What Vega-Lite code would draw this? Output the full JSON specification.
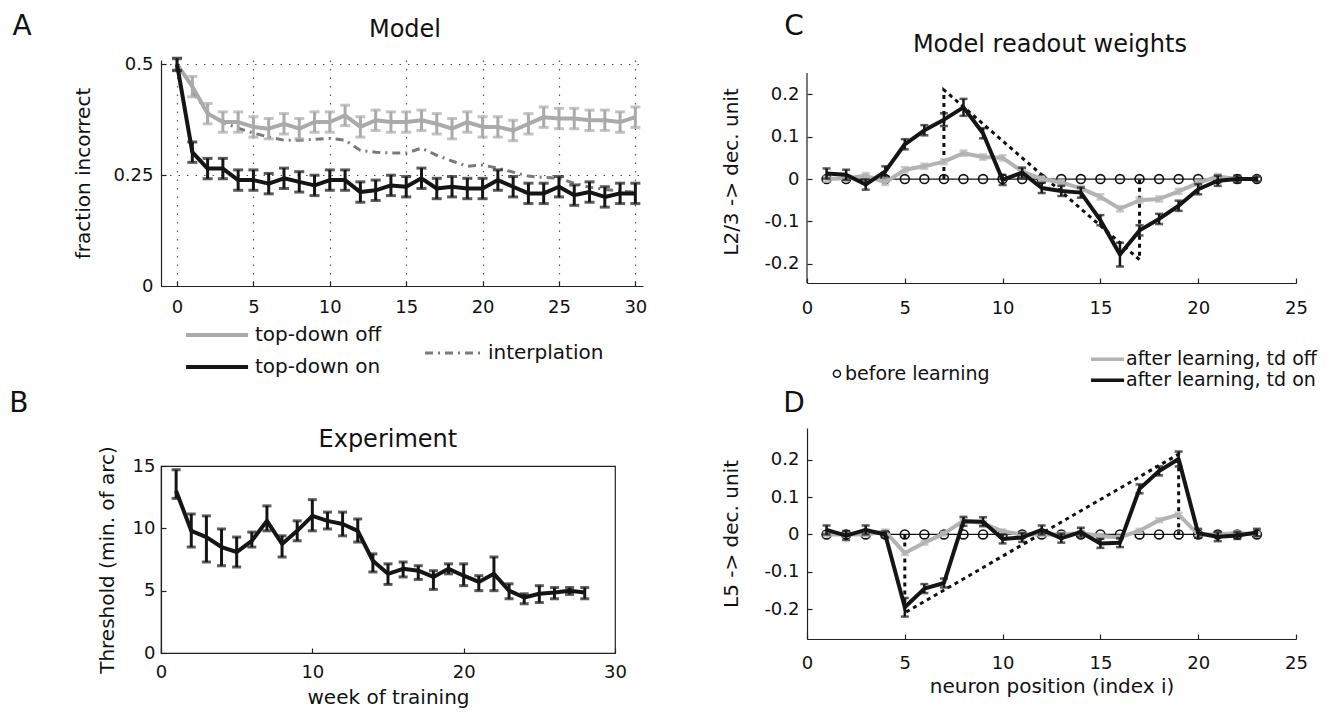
{
  "$schema": "https://vega.github.io/schema/vega-lite/v6.json",
  "background": "white",
  "padding": {"left": 8, "top": 12, "right": 5, "bottom": 2},
  "config": {
    "font": "DejaVu Sans",
    "view": {"stroke": null},
    "axis": {
      "labelFont": "DejaVu Sans", "titleFont": "DejaVu Sans",
      "labelFontSize": 18, "titleFontSize": 20, "titleFontWeight": "normal",
      "labelColor": "#111", "titleColor": "#111",
      "domainColor": "#222", "tickColor": "#222", "domainWidth": 1.2, "tickWidth": 1.2,
      "tickSize": -5, "labelFlush": false, "labelOverlap": false, "grid": false
    },
    "text": {"font": "DejaVu Sans", "color": "#111"}
  },
  "datasets": {
    "A": [
      {"t":0,"cond":"off","v":0.5,"lo":0.488,"hi":0.512},
      {"t":1,"cond":"off","v":0.45,"lo":0.427,"hi":0.473},
      {"t":2,"cond":"off","v":0.389,"lo":0.366,"hi":0.412},
      {"t":3,"cond":"off","v":0.37,"lo":0.347,"hi":0.393},
      {"t":4,"cond":"off","v":0.37,"lo":0.347,"hi":0.393},
      {"t":5,"cond":"off","v":0.359,"lo":0.336,"hi":0.382},
      {"t":6,"cond":"off","v":0.355,"lo":0.332,"hi":0.378},
      {"t":7,"cond":"off","v":0.366,"lo":0.343,"hi":0.389},
      {"t":8,"cond":"off","v":0.355,"lo":0.332,"hi":0.378},
      {"t":9,"cond":"off","v":0.37,"lo":0.347,"hi":0.393},
      {"t":10,"cond":"off","v":0.37,"lo":0.347,"hi":0.393},
      {"t":11,"cond":"off","v":0.385,"lo":0.362,"hi":0.408},
      {"t":12,"cond":"off","v":0.359,"lo":0.336,"hi":0.382},
      {"t":13,"cond":"off","v":0.374,"lo":0.351,"hi":0.397},
      {"t":14,"cond":"off","v":0.37,"lo":0.347,"hi":0.393},
      {"t":15,"cond":"off","v":0.37,"lo":0.347,"hi":0.393},
      {"t":16,"cond":"off","v":0.374,"lo":0.351,"hi":0.397},
      {"t":17,"cond":"off","v":0.366,"lo":0.343,"hi":0.389},
      {"t":18,"cond":"off","v":0.355,"lo":0.332,"hi":0.378},
      {"t":19,"cond":"off","v":0.37,"lo":0.347,"hi":0.393},
      {"t":20,"cond":"off","v":0.359,"lo":0.336,"hi":0.382},
      {"t":21,"cond":"off","v":0.359,"lo":0.336,"hi":0.382},
      {"t":22,"cond":"off","v":0.351,"lo":0.328,"hi":0.374},
      {"t":23,"cond":"off","v":0.366,"lo":0.343,"hi":0.389},
      {"t":24,"cond":"off","v":0.381,"lo":0.358,"hi":0.404},
      {"t":25,"cond":"off","v":0.378,"lo":0.355,"hi":0.401},
      {"t":26,"cond":"off","v":0.378,"lo":0.355,"hi":0.401},
      {"t":27,"cond":"off","v":0.374,"lo":0.351,"hi":0.397},
      {"t":28,"cond":"off","v":0.374,"lo":0.351,"hi":0.397},
      {"t":29,"cond":"off","v":0.37,"lo":0.347,"hi":0.393},
      {"t":30,"cond":"off","v":0.381,"lo":0.358,"hi":0.404},
      {"t":0,"cond":"on","v":0.5,"lo":0.486,"hi":0.514},
      {"t":1,"cond":"on","v":0.302,"lo":0.279,"hi":0.325},
      {"t":2,"cond":"on","v":0.265,"lo":0.242,"hi":0.288},
      {"t":3,"cond":"on","v":0.265,"lo":0.242,"hi":0.288},
      {"t":4,"cond":"on","v":0.239,"lo":0.216,"hi":0.262},
      {"t":5,"cond":"on","v":0.239,"lo":0.216,"hi":0.262},
      {"t":6,"cond":"on","v":0.231,"lo":0.208,"hi":0.254},
      {"t":7,"cond":"on","v":0.243,"lo":0.22,"hi":0.266},
      {"t":8,"cond":"on","v":0.235,"lo":0.212,"hi":0.258},
      {"t":9,"cond":"on","v":0.227,"lo":0.204,"hi":0.25},
      {"t":10,"cond":"on","v":0.239,"lo":0.216,"hi":0.262},
      {"t":11,"cond":"on","v":0.239,"lo":0.216,"hi":0.262},
      {"t":12,"cond":"on","v":0.212,"lo":0.189,"hi":0.235},
      {"t":13,"cond":"on","v":0.216,"lo":0.193,"hi":0.239},
      {"t":14,"cond":"on","v":0.227,"lo":0.204,"hi":0.25},
      {"t":15,"cond":"on","v":0.224,"lo":0.201,"hi":0.247},
      {"t":16,"cond":"on","v":0.243,"lo":0.22,"hi":0.266},
      {"t":17,"cond":"on","v":0.22,"lo":0.197,"hi":0.243},
      {"t":18,"cond":"on","v":0.224,"lo":0.201,"hi":0.247},
      {"t":19,"cond":"on","v":0.22,"lo":0.197,"hi":0.243},
      {"t":20,"cond":"on","v":0.22,"lo":0.197,"hi":0.243},
      {"t":21,"cond":"on","v":0.239,"lo":0.216,"hi":0.262},
      {"t":22,"cond":"on","v":0.224,"lo":0.201,"hi":0.247},
      {"t":23,"cond":"on","v":0.209,"lo":0.186,"hi":0.232},
      {"t":24,"cond":"on","v":0.209,"lo":0.186,"hi":0.232},
      {"t":25,"cond":"on","v":0.224,"lo":0.201,"hi":0.247},
      {"t":26,"cond":"on","v":0.205,"lo":0.182,"hi":0.228},
      {"t":27,"cond":"on","v":0.212,"lo":0.189,"hi":0.235},
      {"t":28,"cond":"on","v":0.201,"lo":0.178,"hi":0.224},
      {"t":29,"cond":"on","v":0.209,"lo":0.186,"hi":0.232},
      {"t":30,"cond":"on","v":0.209,"lo":0.186,"hi":0.232}
    ],
    "interp": [
      {"t":1,"v":0.44},{"t":2,"v":0.392},{"t":3,"v":0.369},{"t":4,"v":0.356},{"t":5,"v":0.345},
      {"t":6,"v":0.336},{"t":7,"v":0.329},{"t":8,"v":0.329},{"t":9,"v":0.331},{"t":10,"v":0.333},
      {"t":11,"v":0.329},{"t":12,"v":0.306},{"t":13,"v":0.302},{"t":14,"v":0.3},{"t":15,"v":0.3},
      {"t":16,"v":0.311},{"t":17,"v":0.295},{"t":18,"v":0.282},{"t":19,"v":0.27},{"t":20,"v":0.273},
      {"t":21,"v":0.266},{"t":22,"v":0.257},{"t":23,"v":0.248},{"t":24,"v":0.245},{"t":25,"v":0.243},
      {"t":26,"v":0.232},{"t":27,"v":0.223},{"t":28,"v":0.218},{"t":29,"v":0.214},{"t":30,"v":0.212}
    ],
    "B": [
      {"w":1,"v":13.0,"lo":12.4,"hi":14.7},
      {"w":2,"v":9.8,"lo":8.5,"hi":11.15},
      {"w":3,"v":9.3,"lo":7.3,"hi":11.0},
      {"w":4,"v":8.5,"lo":7.0,"hi":9.95},
      {"w":5,"v":8.1,"lo":6.9,"hi":9.3},
      {"w":6,"v":9.0,"lo":8.5,"hi":9.7},
      {"w":7,"v":10.6,"lo":9.8,"hi":11.8},
      {"w":8,"v":8.75,"lo":7.7,"hi":9.4},
      {"w":9,"v":9.8,"lo":9.0,"hi":10.6},
      {"w":10,"v":11.0,"lo":9.8,"hi":12.3},
      {"w":11,"v":10.6,"lo":9.95,"hi":11.3},
      {"w":12,"v":10.35,"lo":9.4,"hi":11.3},
      {"w":13,"v":9.8,"lo":8.9,"hi":10.75},
      {"w":14,"v":7.4,"lo":6.5,"hi":7.95},
      {"w":15,"v":6.35,"lo":5.5,"hi":7.15},
      {"w":16,"v":6.75,"lo":6.1,"hi":7.3},
      {"w":17,"v":6.6,"lo":5.9,"hi":7.0},
      {"w":18,"v":6.1,"lo":5.1,"hi":6.6},
      {"w":19,"v":6.75,"lo":6.35,"hi":7.15},
      {"w":20,"v":6.2,"lo":5.4,"hi":7.15},
      {"w":21,"v":5.7,"lo":5.0,"hi":6.2},
      {"w":22,"v":6.35,"lo":5.0,"hi":7.7},
      {"w":23,"v":5.0,"lo":4.35,"hi":5.55},
      {"w":24,"v":4.45,"lo":3.95,"hi":4.75},
      {"w":25,"v":4.75,"lo":4.05,"hi":5.4},
      {"w":26,"v":4.85,"lo":4.35,"hi":5.25},
      {"w":27,"v":5.0,"lo":4.7,"hi":5.25},
      {"w":28,"v":4.85,"lo":4.35,"hi":5.25}
    ],
    "C": [
      {"i":1,"cond":"on","v":0.013,"lo":0.001,"hi":0.025},
      {"i":2,"cond":"on","v":0.01,"lo":-0.002,"hi":0.022},
      {"i":3,"cond":"on","v":-0.013,"lo":-0.025,"hi":-0.001},
      {"i":4,"cond":"on","v":0.018,"lo":0.006,"hi":0.03},
      {"i":5,"cond":"on","v":0.082,"lo":0.07,"hi":0.094},
      {"i":6,"cond":"on","v":0.115,"lo":0.103,"hi":0.127},
      {"i":7,"cond":"on","v":0.14,"lo":0.125,"hi":0.155},
      {"i":8,"cond":"on","v":0.169,"lo":0.149,"hi":0.189},
      {"i":9,"cond":"on","v":0.108,"lo":0.096,"hi":0.12},
      {"i":10,"cond":"on","v":-0.002,"lo":-0.014,"hi":0.01},
      {"i":11,"cond":"on","v":0.015,"lo":0.003,"hi":0.027},
      {"i":12,"cond":"on","v":-0.021,"lo":-0.033,"hi":-0.009},
      {"i":13,"cond":"on","v":-0.028,"lo":-0.04,"hi":-0.016},
      {"i":14,"cond":"on","v":-0.032,"lo":-0.044,"hi":-0.02},
      {"i":15,"cond":"on","v":-0.097,"lo":-0.109,"hi":-0.085},
      {"i":16,"cond":"on","v":-0.178,"lo":-0.206,"hi":-0.15},
      {"i":17,"cond":"on","v":-0.121,"lo":-0.133,"hi":-0.109},
      {"i":18,"cond":"on","v":-0.094,"lo":-0.106,"hi":-0.082},
      {"i":19,"cond":"on","v":-0.063,"lo":-0.075,"hi":-0.051},
      {"i":20,"cond":"on","v":-0.024,"lo":-0.036,"hi":-0.012},
      {"i":21,"cond":"on","v":-0.004,"lo":-0.016,"hi":0.008},
      {"i":22,"cond":"on","v":0.0,"lo":-0.008,"hi":0.008},
      {"i":23,"cond":"on","v":0.0,"lo":-0.006,"hi":0.006},
      {"i":1,"cond":"off","v":0.0,"lo":-0.006,"hi":0.006},
      {"i":2,"cond":"off","v":0.002,"lo":-0.004,"hi":0.008},
      {"i":3,"cond":"off","v":0.008,"lo":0.002,"hi":0.014},
      {"i":4,"cond":"off","v":-0.008,"lo":-0.014,"hi":-0.002},
      {"i":5,"cond":"off","v":0.022,"lo":0.016,"hi":0.028},
      {"i":6,"cond":"off","v":0.03,"lo":0.024,"hi":0.036},
      {"i":7,"cond":"off","v":0.041,"lo":0.035,"hi":0.047},
      {"i":8,"cond":"off","v":0.061,"lo":0.055,"hi":0.067},
      {"i":9,"cond":"off","v":0.052,"lo":0.046,"hi":0.058},
      {"i":10,"cond":"off","v":0.05,"lo":0.044,"hi":0.056},
      {"i":11,"cond":"off","v":0.018,"lo":0.012,"hi":0.024},
      {"i":12,"cond":"off","v":0.0,"lo":-0.006,"hi":0.006},
      {"i":13,"cond":"off","v":-0.008,"lo":-0.014,"hi":-0.002},
      {"i":14,"cond":"off","v":-0.022,"lo":-0.028,"hi":-0.016},
      {"i":15,"cond":"off","v":-0.042,"lo":-0.048,"hi":-0.036},
      {"i":16,"cond":"off","v":-0.07,"lo":-0.076,"hi":-0.064},
      {"i":17,"cond":"off","v":-0.05,"lo":-0.056,"hi":-0.044},
      {"i":18,"cond":"off","v":-0.047,"lo":-0.053,"hi":-0.041},
      {"i":19,"cond":"off","v":-0.029,"lo":-0.035,"hi":-0.023},
      {"i":20,"cond":"off","v":-0.009,"lo":-0.015,"hi":-0.003},
      {"i":21,"cond":"off","v":0.006,"lo":0.0,"hi":0.012},
      {"i":22,"cond":"off","v":0.0,"lo":-0.006,"hi":0.006},
      {"i":23,"cond":"off","v":0.0,"lo":-0.006,"hi":0.006}
    ],
    "D": [
      {"i":1,"cond":"on","v":0.012,"lo":0.0,"hi":0.024},
      {"i":2,"cond":"on","v":-0.003,"lo":-0.015,"hi":0.009},
      {"i":3,"cond":"on","v":0.012,"lo":0.0,"hi":0.024},
      {"i":4,"cond":"on","v":0.0,"lo":-0.008,"hi":0.008},
      {"i":5,"cond":"on","v":-0.195,"lo":-0.22,"hi":-0.17},
      {"i":6,"cond":"on","v":-0.145,"lo":-0.157,"hi":-0.133},
      {"i":7,"cond":"on","v":-0.13,"lo":-0.142,"hi":-0.118},
      {"i":8,"cond":"on","v":0.035,"lo":0.023,"hi":0.047},
      {"i":9,"cond":"on","v":0.034,"lo":0.022,"hi":0.046},
      {"i":10,"cond":"on","v":-0.012,"lo":-0.024,"hi":0.0},
      {"i":11,"cond":"on","v":-0.008,"lo":-0.02,"hi":0.004},
      {"i":12,"cond":"on","v":0.012,"lo":0.0,"hi":0.024},
      {"i":13,"cond":"on","v":-0.01,"lo":-0.022,"hi":0.002},
      {"i":14,"cond":"on","v":0.006,"lo":-0.006,"hi":0.018},
      {"i":15,"cond":"on","v":-0.024,"lo":-0.036,"hi":-0.012},
      {"i":16,"cond":"on","v":-0.022,"lo":-0.034,"hi":-0.01},
      {"i":17,"cond":"on","v":0.122,"lo":0.11,"hi":0.134},
      {"i":18,"cond":"on","v":0.17,"lo":0.158,"hi":0.182},
      {"i":19,"cond":"on","v":0.202,"lo":0.182,"hi":0.222},
      {"i":20,"cond":"on","v":0.003,"lo":-0.009,"hi":0.015},
      {"i":21,"cond":"on","v":-0.006,"lo":-0.018,"hi":0.006},
      {"i":22,"cond":"on","v":-0.003,"lo":-0.012,"hi":0.006},
      {"i":23,"cond":"on","v":0.005,"lo":-0.005,"hi":0.015},
      {"i":1,"cond":"off","v":0.0,"lo":-0.005,"hi":0.005},
      {"i":2,"cond":"off","v":0.0,"lo":-0.005,"hi":0.005},
      {"i":3,"cond":"off","v":0.0,"lo":-0.005,"hi":0.005},
      {"i":4,"cond":"off","v":0.008,"lo":0.003,"hi":0.013},
      {"i":5,"cond":"off","v":-0.05,"lo":-0.055,"hi":-0.045},
      {"i":6,"cond":"off","v":-0.022,"lo":-0.027,"hi":-0.017},
      {"i":7,"cond":"off","v":0.002,"lo":-0.003,"hi":0.007},
      {"i":8,"cond":"off","v":0.037,"lo":0.032,"hi":0.042},
      {"i":9,"cond":"off","v":0.03,"lo":0.025,"hi":0.035},
      {"i":10,"cond":"off","v":0.008,"lo":0.003,"hi":0.013},
      {"i":11,"cond":"off","v":0.0,"lo":-0.005,"hi":0.005},
      {"i":12,"cond":"off","v":0.0,"lo":-0.005,"hi":0.005},
      {"i":13,"cond":"off","v":0.0,"lo":-0.005,"hi":0.005},
      {"i":14,"cond":"off","v":0.004,"lo":-0.001,"hi":0.009},
      {"i":15,"cond":"off","v":-0.004,"lo":-0.009,"hi":0.001},
      {"i":16,"cond":"off","v":-0.008,"lo":-0.013,"hi":-0.003},
      {"i":17,"cond":"off","v":0.01,"lo":0.005,"hi":0.015},
      {"i":18,"cond":"off","v":0.038,"lo":0.033,"hi":0.043},
      {"i":19,"cond":"off","v":0.053,"lo":0.048,"hi":0.058},
      {"i":20,"cond":"off","v":0.0,"lo":-0.005,"hi":0.005},
      {"i":21,"cond":"off","v":0.0,"lo":-0.005,"hi":0.005},
      {"i":22,"cond":"off","v":0.004,"lo":-0.001,"hi":0.009},
      {"i":23,"cond":"off","v":0.0,"lo":-0.005,"hi":0.005}
    ],
    "zero": [
      {"i":1,"v":0},{"i":2,"v":0},{"i":3,"v":0},{"i":4,"v":0},{"i":5,"v":0},{"i":6,"v":0},
      {"i":7,"v":0},{"i":8,"v":0},{"i":9,"v":0},{"i":10,"v":0},{"i":11,"v":0},{"i":12,"v":0},
      {"i":13,"v":0},{"i":14,"v":0},{"i":15,"v":0},{"i":16,"v":0},{"i":17,"v":0},{"i":18,"v":0},
      {"i":19,"v":0},{"i":20,"v":0},{"i":21,"v":0},{"i":22,"v":0},{"i":23,"v":0}
    ],
    "idealC": [
      {"k":1,"i":7,"v":0},{"k":2,"i":7,"v":0.21},{"k":3,"i":17,"v":-0.19},{"k":4,"i":17,"v":0}
    ],
    "idealD": [
      {"k":1,"i":5,"v":0},{"k":2,"i":5,"v":-0.21},{"k":3,"i":19,"v":0.215},{"k":4,"i":19,"v":0}
    ]
  },
  "spacing": 74,
  "hconcat": [
    {
      "spacing": 180,
      "bounds": "flush",
      "vconcat": [
        {
          "width": 482,
          "height": 226,
          "layer": [
            {
              "data": {"name": "interp"},
              "mark": {"type": "line", "color": "#7a7a7a", "strokeWidth": 3, "strokeDash": [8, 5, 2, 5]},
              "encoding": {
                "x": {"field": "t", "type": "quantitative", "title": null, "scale": {"domain": [-1.05, 30.5], "nice": false, "zero": false},
                      "axis": {"values": [0, 5, 10, 15, 20, 25, 30], "grid": true, "gridDash": [1.5, 7], "gridColor": "#555", "gridWidth": 1.2, "labelPadding": 17, "labelExpr": "datum.value + ''"}},
                "y": {"field": "v", "type": "quantitative", "title": "fraction incorrect", "scale": {"domain": [0, 0.51], "nice": false, "zero": false},
                      "axis": {"values": [0, 0.25, 0.5], "grid": true, "gridDash": [1.5, 7], "gridColor": "#555", "gridWidth": 1.2, "labelPadding": 13, "titlePadding": 19, "labelExpr": "datum.value + ''"}}
              }
            },
            {
              "data": {"name": "A"},
              "transform": [{"filter": "datum.cond == 'off'"}],
              "mark": {"type": "line", "color": "#aaaaaa", "strokeWidth": 4, "strokeJoin": "round"},
              "encoding": {"x": {"field": "t", "type": "quantitative", "title": null}, "y": {"field": "v", "type": "quantitative", "title": "fraction incorrect"}}
            },
            {
              "data": {"name": "A"},
              "transform": [{"filter": "datum.cond == 'off'"}],
              "mark": {"type": "errorbar", "ticks": true, "size": 10, "thickness": 3, "color": "#aaaaaa"},
              "encoding": {"x": {"field": "t", "type": "quantitative", "title": null}, "y": {"field": "lo", "type": "quantitative", "title": "fraction incorrect"}, "y2": {"field": "hi"}}
            },
            {
              "data": {"name": "A"},
              "transform": [{"filter": "datum.cond == 'on'"}],
              "mark": {"type": "line", "color": "#151515", "strokeWidth": 4, "strokeJoin": "round"},
              "encoding": {"x": {"field": "t", "type": "quantitative", "title": null}, "y": {"field": "v", "type": "quantitative", "title": "fraction incorrect"}}
            },
            {
              "data": {"name": "A"},
              "transform": [{"filter": "datum.cond == 'on'"}],
              "mark": {"type": "errorbar", "ticks": true, "size": 10, "thickness": 3, "color": "#151515"},
              "encoding": {"x": {"field": "t", "type": "quantitative", "title": null}, "y": {"field": "lo", "type": "quantitative", "title": "fraction incorrect"}, "y2": {"field": "hi"}}
            },
            {
              "data": {"values": [{"s": "A"}]},
              "mark": {"type": "text", "fontSize": 28, "align": "center", "baseline": "alphabetic"},
              "encoding": {"x": {"datum": -10.14, "type": "quantitative"}, "y": {"datum": 0.5666, "type": "quantitative"}, "text": {"field": "s"}}
            },
            {
              "data": {"values": [{"s": "Model"}]},
              "mark": {"type": "text", "fontSize": 24, "align": "center", "baseline": "alphabetic"},
              "encoding": {"x": {"datum": 14.92, "type": "quantitative"}, "y": {"datum": 0.5621, "type": "quantitative"}, "text": {"field": "s"}}
            },
            {
              "data": {"values": [{}]},
              "mark": {"type": "rule", "color": "#aaaaaa", "strokeWidth": 4},
              "encoding": {"x": {"datum": 0.59, "type": "quantitative"}, "x2": {"datum": 4.65}, "y": {"datum": -0.1106, "type": "quantitative"}}
            },
            {
              "data": {"values": [{"s": "top-down off"}]},
              "mark": {"type": "text", "fontSize": 20, "align": "left", "baseline": "middle"},
              "encoding": {"x": {"datum": 5.1, "type": "quantitative"}, "y": {"datum": -0.1106, "type": "quantitative"}, "text": {"field": "s"}}
            },
            {
              "data": {"values": [{}]},
              "mark": {"type": "rule", "color": "#151515", "strokeWidth": 4},
              "encoding": {"x": {"datum": 0.59, "type": "quantitative"}, "x2": {"datum": 4.65}, "y": {"datum": -0.1828, "type": "quantitative"}}
            },
            {
              "data": {"values": [{"s": "top-down on"}]},
              "mark": {"type": "text", "fontSize": 20, "align": "left", "baseline": "middle"},
              "encoding": {"x": {"datum": 5.1, "type": "quantitative"}, "y": {"datum": -0.1828, "type": "quantitative"}, "text": {"field": "s"}}
            },
            {
              "data": {"values": [{}]},
              "mark": {"type": "rule", "color": "#7a7a7a", "strokeWidth": 3, "strokeDash": [8, 5, 2, 5]},
              "encoding": {"x": {"datum": 16.23, "type": "quantitative"}, "x2": {"datum": 19.9}, "y": {"datum": -0.1512, "type": "quantitative"}}
            },
            {
              "data": {"values": [{"s": "interplation"}]},
              "mark": {"type": "text", "fontSize": 20, "align": "left", "baseline": "middle"},
              "encoding": {"x": {"datum": 20.35, "type": "quantitative"}, "y": {"datum": -0.1512, "type": "quantitative"}, "text": {"field": "s"}}
            }
          ]
        },
        {
          "width": 454,
          "height": 187,
          "view": {"stroke": "#222", "strokeWidth": 1.2},
          "layer": [
            {
              "data": {"name": "B"},
              "mark": {"type": "line", "color": "#151515", "strokeWidth": 4, "strokeJoin": "round"},
              "encoding": {
                "x": {"field": "w", "type": "quantitative", "title": "week of training", "scale": {"domain": [0, 30], "nice": false, "zero": false},
                      "axis": {"values": [0, 10, 20, 30], "labelPadding": 15, "titlePadding": 6}},
                "y": {"field": "v", "type": "quantitative", "title": "Threshold (min. of arc)", "scale": {"domain": [0, 15], "nice": false, "zero": false},
                      "axis": {"values": [0, 5, 10, 15], "labelPadding": 11, "titlePadding": 15}}
              }
            },
            {
              "data": {"name": "B"},
              "mark": {"type": "errorbar", "ticks": true, "size": 9, "thickness": 3, "color": "#151515"},
              "encoding": {"x": {"field": "w", "type": "quantitative", "title": "week of training"}, "y": {"field": "lo", "type": "quantitative", "title": "Threshold (min. of arc)"}, "y2": {"field": "hi"}}
            },
            {
              "data": {"values": [{"s": "B"}]},
              "mark": {"type": "text", "fontSize": 28, "align": "center", "baseline": "alphabetic"},
              "encoding": {"x": {"datum": -9.39, "type": "quantitative"}, "y": {"datum": 19.32, "type": "quantitative"}, "text": {"field": "s"}}
            },
            {
              "data": {"values": [{"s": "Experiment"}]},
              "mark": {"type": "text", "fontSize": 24, "align": "center", "baseline": "alphabetic"},
              "encoding": {"x": {"datum": 14.99, "type": "quantitative"}, "y": {"datum": 16.53, "type": "quantitative"}, "text": {"field": "s"}}
            }
          ]
        }
      ]
    },
    {
      "spacing": 145,
      "bounds": "flush",
      "vconcat": [
        {
          "width": 489,
          "height": 223,
          "layer": [
            {
              "data": {"name": "idealC"},
              "mark": {"type": "line", "color": "#111", "strokeWidth": 3, "strokeDash": [4, 4]},
              "encoding": {
                "x": {"field": "i", "type": "quantitative", "title": null, "scale": {"domain": [0, 25], "nice": false, "zero": false},
                      "axis": {"values": [0, 5, 10, 15, 20, 25], "labelPadding": 21, "labelExpr": "datum.value + ''"}},
                "y": {"field": "v", "type": "quantitative", "title": "L2/3 -> dec. unit", "scale": {"domain": [-0.245, 0.2806], "nice": false, "zero": false},
                      "axis": {"values": [-0.2, -0.1, 0, 0.1, 0.2], "domain": false, "labelPadding": 13, "titlePadding": 22, "labelExpr": "datum.value + ''"}},
                "order": {"field": "k", "type": "quantitative"}
              }
            },
            {
              "data": {"values": [{}]},
              "mark": {"type": "rule", "color": "#222", "strokeWidth": 1.2},
              "encoding": {"x": {"datum": 0, "type": "quantitative"}, "y": {"datum": -0.245, "type": "quantitative"}, "y2": {"datum": 0.25}}
            },
            {
              "data": {"name": "zero"},
              "mark": {"type": "line", "color": "#111", "strokeWidth": 1.2},
              "encoding": {"x": {"field": "i", "type": "quantitative", "title": null}, "y": {"field": "v", "type": "quantitative", "title": "L2/3 -> dec. unit"}}
            },
            {
              "data": {"name": "zero"},
              "mark": {"type": "point", "shape": "circle", "filled": false, "size": 80, "color": "#111", "strokeWidth": 1.6, "opacity": 1},
              "encoding": {"x": {"field": "i", "type": "quantitative", "title": null}, "y": {"field": "v", "type": "quantitative", "title": "L2/3 -> dec. unit"}}
            },
            {
              "data": {"name": "C"},
              "transform": [{"filter": "datum.cond == 'off'"}],
              "mark": {"type": "line", "color": "#b3b3b3", "strokeWidth": 4, "strokeJoin": "round"},
              "encoding": {"x": {"field": "i", "type": "quantitative", "title": null}, "y": {"field": "v", "type": "quantitative", "title": "L2/3 -> dec. unit"}}
            },
            {
              "data": {"name": "C"},
              "transform": [{"filter": "datum.cond == 'off'"}],
              "mark": {"type": "errorbar", "ticks": true, "size": 8, "thickness": 2.5, "color": "#b3b3b3"},
              "encoding": {"x": {"field": "i", "type": "quantitative", "title": null}, "y": {"field": "lo", "type": "quantitative", "title": "L2/3 -> dec. unit"}, "y2": {"field": "hi"}}
            },
            {
              "data": {"name": "C"},
              "transform": [{"filter": "datum.cond == 'on'"}],
              "mark": {"type": "line", "color": "#151515", "strokeWidth": 4, "strokeJoin": "round"},
              "encoding": {"x": {"field": "i", "type": "quantitative", "title": null}, "y": {"field": "v", "type": "quantitative", "title": "L2/3 -> dec. unit"}}
            },
            {
              "data": {"name": "C"},
              "transform": [{"filter": "datum.cond == 'on'"}],
              "mark": {"type": "errorbar", "ticks": true, "size": 8, "thickness": 2.5, "color": "#151515"},
              "encoding": {"x": {"field": "i", "type": "quantitative", "title": null}, "y": {"field": "lo", "type": "quantitative", "title": "L2/3 -> dec. unit"}, "y2": {"field": "hi"}}
            },
            {
              "data": {"values": [{"s": "C"}]},
              "mark": {"type": "text", "fontSize": 28, "align": "center", "baseline": "alphabetic"},
              "encoding": {"x": {"datum": -0.66, "type": "quantitative"}, "y": {"datum": 0.3396, "type": "quantitative"}, "text": {"field": "s"}}
            },
            {
              "data": {"values": [{"s": "Model readout weights"}]},
              "mark": {"type": "text", "fontSize": 24, "align": "center", "baseline": "alphabetic"},
              "encoding": {"x": {"datum": 12.42, "type": "quantitative"}, "y": {"datum": 0.2995, "type": "quantitative"}, "text": {"field": "s"}}
            },
            {
              "data": {"values": [{}]},
              "mark": {"type": "point", "shape": "circle", "filled": false, "size": 50, "color": "#111", "strokeWidth": 1.5, "opacity": 1},
              "encoding": {"x": {"datum": 1.53, "type": "quantitative"}, "y": {"datum": -0.4587, "type": "quantitative"}}
            },
            {
              "data": {"values": [{"s": "before learning"}]},
              "mark": {"type": "text", "fontSize": 19, "align": "left", "baseline": "middle"},
              "encoding": {"x": {"datum": 1.94, "type": "quantitative"}, "y": {"datum": -0.4587, "type": "quantitative"}, "text": {"field": "s"}}
            },
            {
              "data": {"values": [{}]},
              "mark": {"type": "rule", "color": "#b3b3b3", "strokeWidth": 3.5},
              "encoding": {"x": {"datum": 14.52, "type": "quantitative"}, "x2": {"datum": 16.21}, "y": {"datum": -0.4245, "type": "quantitative"}}
            },
            {
              "data": {"values": [{"s": "after learning, td off"}]},
              "mark": {"type": "text", "fontSize": 19, "align": "left", "baseline": "middle"},
              "encoding": {"x": {"datum": 16.31, "type": "quantitative"}, "y": {"datum": -0.4245, "type": "quantitative"}, "text": {"field": "s"}}
            },
            {
              "data": {"values": [{}]},
              "mark": {"type": "rule", "color": "#151515", "strokeWidth": 3.5},
              "encoding": {"x": {"datum": 14.52, "type": "quantitative"}, "x2": {"datum": 16.21}, "y": {"datum": -0.474, "type": "quantitative"}}
            },
            {
              "data": {"values": [{"s": "after learning, td on"}]},
              "mark": {"type": "text", "fontSize": 19, "align": "left", "baseline": "middle"},
              "encoding": {"x": {"datum": 16.31, "type": "quantitative"}, "y": {"datum": -0.474, "type": "quantitative"}, "text": {"field": "s"}}
            }
          ]
        },
        {
          "width": 489,
          "height": 211,
          "layer": [
            {
              "data": {"name": "idealD"},
              "mark": {"type": "line", "color": "#111", "strokeWidth": 3, "strokeDash": [4, 4]},
              "encoding": {
                "x": {"field": "i", "type": "quantitative", "title": "neuron position (index i)", "scale": {"domain": [0, 25], "nice": false, "zero": false},
                      "axis": {"values": [0, 5, 10, 15, 20, 25], "labelPadding": 20, "titlePadding": 4, "labelExpr": "datum.value + ''"}},
                "y": {"field": "v", "type": "quantitative", "title": "L5 -> dec. unit", "scale": {"domain": [-0.28, 0.285], "nice": false, "zero": false},
                      "axis": {"values": [-0.2, -0.1, 0, 0.1, 0.2], "labelPadding": 13, "titlePadding": 22, "labelExpr": "datum.value + ''"}},
                "order": {"field": "k", "type": "quantitative"}
              }
            },
            {
              "data": {"name": "zero"},
              "mark": {"type": "line", "color": "#111", "strokeWidth": 1.2},
              "encoding": {"x": {"field": "i", "type": "quantitative", "title": "neuron position (index i)"}, "y": {"field": "v", "type": "quantitative", "title": "L5 -> dec. unit"}}
            },
            {
              "data": {"name": "zero"},
              "mark": {"type": "point", "shape": "circle", "filled": false, "size": 80, "color": "#111", "strokeWidth": 1.6, "opacity": 1},
              "encoding": {"x": {"field": "i", "type": "quantitative", "title": "neuron position (index i)"}, "y": {"field": "v", "type": "quantitative", "title": "L5 -> dec. unit"}}
            },
            {
              "data": {"name": "D"},
              "transform": [{"filter": "datum.cond == 'off'"}],
              "mark": {"type": "line", "color": "#b3b3b3", "strokeWidth": 4, "strokeJoin": "round"},
              "encoding": {"x": {"field": "i", "type": "quantitative", "title": "neuron position (index i)"}, "y": {"field": "v", "type": "quantitative", "title": "L5 -> dec. unit"}}
            },
            {
              "data": {"name": "D"},
              "transform": [{"filter": "datum.cond == 'off'"}],
              "mark": {"type": "errorbar", "ticks": true, "size": 8, "thickness": 2.5, "color": "#b3b3b3"},
              "encoding": {"x": {"field": "i", "type": "quantitative", "title": "neuron position (index i)"}, "y": {"field": "lo", "type": "quantitative", "title": "L5 -> dec. unit"}, "y2": {"field": "hi"}}
            },
            {
              "data": {"name": "D"},
              "transform": [{"filter": "datum.cond == 'on'"}],
              "mark": {"type": "line", "color": "#151515", "strokeWidth": 4, "strokeJoin": "round"},
              "encoding": {"x": {"field": "i", "type": "quantitative", "title": "neuron position (index i)"}, "y": {"field": "v", "type": "quantitative", "title": "L5 -> dec. unit"}}
            },
            {
              "data": {"name": "D"},
              "transform": [{"filter": "datum.cond == 'on'"}],
              "mark": {"type": "errorbar", "ticks": true, "size": 8, "thickness": 2.5, "color": "#151515"},
              "encoding": {"x": {"field": "i", "type": "quantitative", "title": "neuron position (index i)"}, "y": {"field": "lo", "type": "quantitative", "title": "L5 -> dec. unit"}, "y2": {"field": "hi"}}
            },
            {
              "data": {"values": [{"s": "D"}]},
              "mark": {"type": "text", "fontSize": 28, "align": "center", "baseline": "alphabetic"},
              "encoding": {"x": {"datum": -0.66, "type": "quantitative"}, "y": {"datum": 0.328, "type": "quantitative"}, "text": {"field": "s"}}
            }
          ]
        }
      ]
    }
  ]
}
